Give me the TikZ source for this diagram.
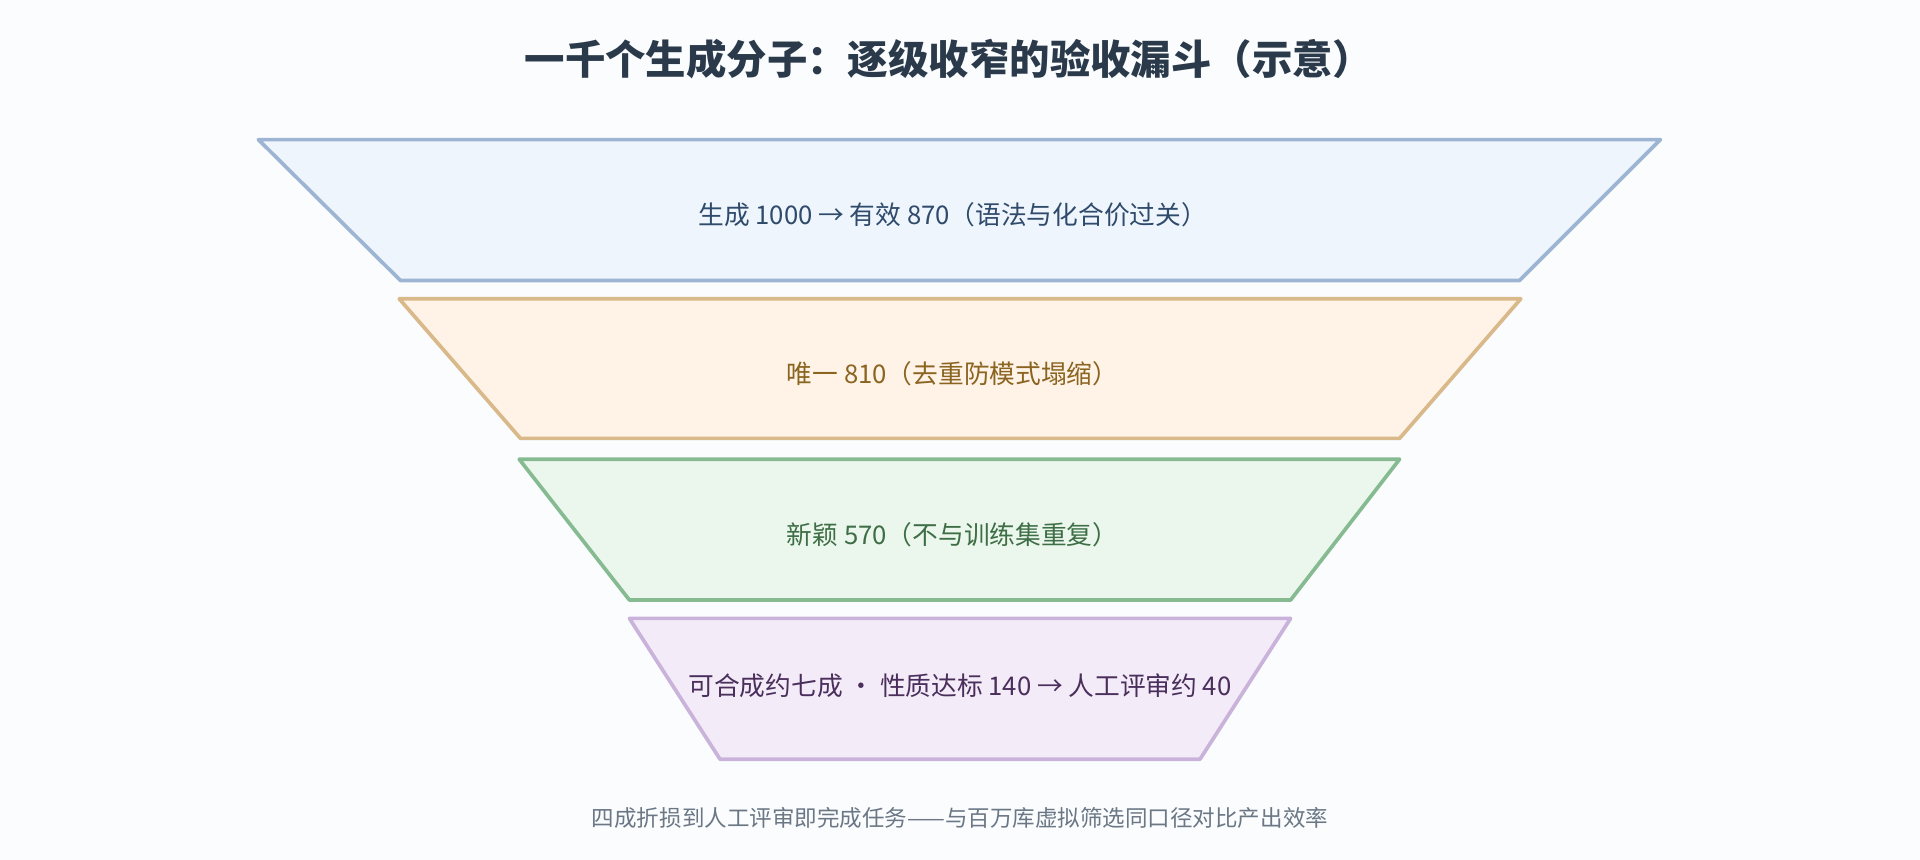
\documentclass[tikz,border=0pt]{standalone}
\usepackage{fontspec}
\setmainfont{Noto Sans CJK SC}
\definecolor{bg}{HTML}{FAFCFE}
\definecolor{f1}{HTML}{EEF5FC}\definecolor{s1}{HTML}{9DB5D3}\definecolor{t1}{HTML}{2F4A6B}
\definecolor{f2}{HTML}{FEF3E6}\definecolor{s2}{HTML}{D9B98A}\definecolor{t2}{HTML}{8A6420}
\definecolor{f3}{HTML}{EBF6ED}\definecolor{s3}{HTML}{86BB92}\definecolor{t3}{HTML}{3D6E45}
\definecolor{f4}{HTML}{F3EBF7}\definecolor{s4}{HTML}{C9B3DB}\definecolor{t4}{HTML}{4A2E5C}
\definecolor{ttl}{HTML}{2A3A4A}\definecolor{ft}{HTML}{6B7785}
\begin{document}
\begin{tikzpicture}[x=0.5pt,y=-0.5pt,
  stage/.style={line width=1.5pt,line join=round},
  lab/.style={font=\fontsize{10.5pt}{12pt}\selectfont}]
\fill[bg] (0,0) rectangle (1568,702);
\useasboundingbox (0,0) rectangle (1568,702);
\node[font=\fontsize{16.5pt}{19pt}\selectfont\bfseries,text=ttl] (title) at (775,48) {一千个生成分子：逐级收窄的验收漏斗（示意）};
\draw[stage,fill=f1,draw=s1] (211,114) -- (1356,114) -- (1241,229) -- (327,229) -- cycle;
\node[lab,text=t1] (l1) at (778,175) {生成 1000 → 有效 870（语法与化合价过关）};
\draw[stage,fill=f2,draw=s2] (326,244) -- (1242,244) -- (1143,358) -- (425,358) -- cycle;
\node[lab,text=t2] (l2) at (778,305) {唯一 810（去重防模式塌缩）};
\draw[stage,fill=f3,draw=s3] (424,375) -- (1143,375) -- (1054,490) -- (514,490) -- cycle;
\node[lab,text=t3] (l3) at (778,437) {新颖 570（不与训练集重复）};
\draw[stage,fill=f4,draw=s4] (514,505) -- (1054,505) -- (980,620) -- (588,620) -- cycle;
\node[lab,text=t4] (l4) at (784,560) {可合成约七成 · 性质达标 140 → 人工评审约 40};
\node[font=\fontsize{9.2pt}{11pt}\selectfont,text=ft] (foot) at (784,668) {四成折损到人工评审即完成任务——与百万库虚拟筛选同口径对比产出效率};
\end{tikzpicture}
\end{document}
